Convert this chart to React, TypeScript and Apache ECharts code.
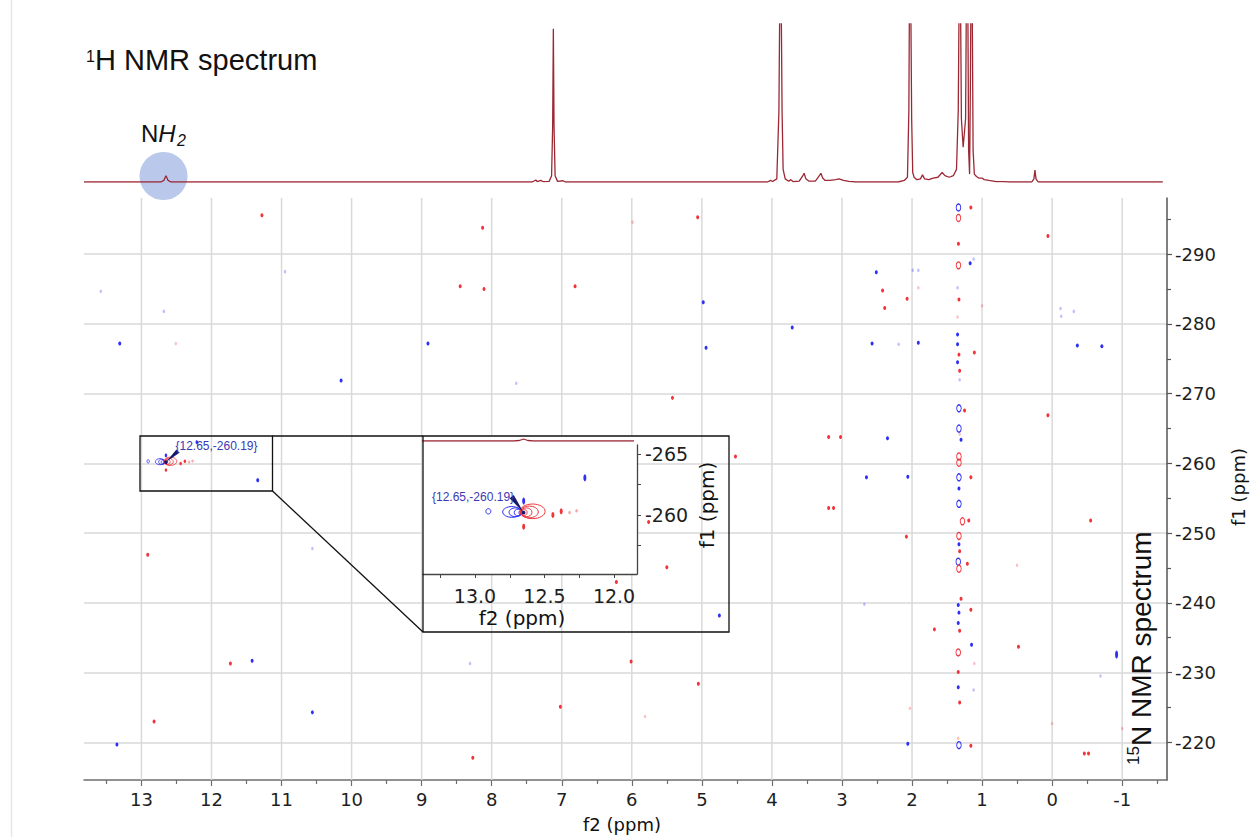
import React, { useEffect, useRef } from 'react';
import * as echarts from 'echarts';

// ---- axis ticks -----------------------------------------------------------
const f2Major = [13, 12, 11, 10, 9, 8, 7, 6, 5, 4, 3, 2, 1, 0, -1];
const f2Minor = [13.5, 12.5, 11.5, 10.5, 9.5, 8.5, 7.5, 6.5, 5.5, 4.5, 3.5, 2.5, 1.5, 0.5, -0.5, -1.5];
const f1Major = [-290, -280, -270, -260, -250, -240, -230, -220];
const f1Minor = [-295, -285, -275, -265, -255, -245, -235, -225];
const zoomF2Major = [13.0, 12.5, 12.0];
const zoomF2Minor = [13.25, 12.75, 12.25];
const zoomF1Major = [-265, -260];
const zoomF1Minor = [-262.5, -257.5];

// ---- 1H spectrum trace: [ppm, intensity] ----------------------------------
const protonSpectrum: number[][] = [
  [13.82, 0], [12.72, 0], [12.68, 1], [12.66, 3], [12.65, 4], [12.64, 3], [12.62, 1], [12.58, 0],
  [7.42, 0], [7.37, 1.3], [7.35, 0.3], [7.3, 1], [7.27, 0.3], [7.18, 0.4], [7.145, 4], [7.13, 35],
  [7.12, 97], [7.11, 35], [7.095, 4], [7.06, 0.4], [6.98, 0.8], [6.95, 0],
  [4.06, 0], [4.02, 1], [3.99, 0.3], [3.93, 2], [3.9, 45], [3.885, 130], [3.87, 130], [3.855, 45],
  [3.84, 8], [3.81, 2], [3.76, 0.5], [3.73, 1.5], [3.7, 0.3], [3.61, 0.5], [3.565, 3.5], [3.54, 5.5],
  [3.515, 2], [3.47, 0.5], [3.38, 0.5], [3.33, 3.5], [3.3, 5.5], [3.275, 2.5], [3.24, 1], [3.17, 1],
  [3.09, 1.5], [3.04, 2], [2.98, 1], [2.9, 0.4], [2.8, 0],
  [2.2, 0], [2.11, 1], [2.065, 3], [2.045, 45], [2.035, 130], [2.02, 130], [2.005, 40], [1.99, 6],
  [1.97, 3], [1.93, 1.5], [1.88, 2], [1.85, 4.5], [1.82, 2], [1.76, 1.5], [1.7, 2.5], [1.63, 3],
  [1.57, 6], [1.53, 4], [1.47, 3], [1.41, 4], [1.365, 8],
  [1.34, 45], [1.325, 130], [1.31, 130], [1.295, 40], [1.27, 22], [1.235, 40], [1.222, 130],
  [1.205, 130], [1.192, 20], [1.178, 5], [1.167, 60], [1.157, 130], [1.143, 130], [1.128, 20],
  [1.11, 5], [1.08, 3.5], [1.05, 2.5], [1.0, 2.5], [0.97, 1.5], [0.9, 1], [0.8, 0.3], [0.7, 0.3],
  [0.6, 0], [0.29, 0], [0.26, 2], [0.245, 7.5], [0.23, 2], [0.2, 0], [-1.58, 0],
];

// ---- 1H-15N cross peaks: [f2 ppm, f1 ppm] --------------------------------
const blueDots: number[][] = [
  [13.31, -277.2], [13.35, -219.7], [11.34, -257.6], [10.15, -271.9], [8.91, -277.2],
  [4.98, -283.1], [4.94, -276.6], [3.71, -279.5], [2.51, -287.4], [2.57, -277.2],
  [-0.36, -276.9], [-0.71, -276.8], [2.65, -258.0], [11.42, -231.7], [10.56, -224.3],
  [4.75, -238.2], [2.35, -263.6], [2.06, -258.1], [2.06, -219.8], [1.91, -277.3],
  [1.17, -288.7], [1.15, -234.0], [1.35, -278.5], [1.35, -277.1], [1.35, -274.5],
  [1.3, -263.4], [1.33, -256.4], [1.33, -248.4], [1.34, -239.7], [1.33, -238.6],
  [1.34, -237.1], [1.34, -227.9],
];
const blueRings: number[][] = [
  [1.337, -296.7], [1.33, -267.9], [1.33, -265.0], [1.33, -258.0], [1.33, -254.2],
  [1.34, -245.9], [1.33, -219.6],
];
const blueFaint: number[][] = [
  [13.58, -284.7], [10.95, -287.5], [12.68, -281.8], [1.99, -287.7], [1.91, -287.7],
  [1.35, -285.2], [2.19, -277.1], [1.32, -272.0], [-0.12, -282.2], [-0.13, -281.1],
  [-0.31, -281.8], [10.56, -247.8], [8.31, -231.3], [2.68, -239.8], [1.12, -227.5],
  [-0.69, -229.5], [1.12, -289.3], [7.65, -271.5],
];
const blueBlobs: number[][] = [[-0.92, -232.6]];
const redDots: number[][] = [
  [11.28, -295.6], [5.06, -295.3], [8.13, -293.8], [0.06, -292.6], [1.16, -296.7],
  [1.337, -291.5], [2.42, -284.8], [8.45, -285.4], [8.11, -285.0], [6.81, -285.4],
  [2.07, -283.6], [1.33, -283.5], [2.39, -282.3], [1.33, -275.6], [1.11, -275.9],
  [1.32, -273.3], [1.25, -267.6], [1.16, -258.0], [0.06, -266.9], [5.42, -269.4],
  [3.19, -263.8], [3.02, -263.8], [4.52, -261.0], [3.12, -253.6], [3.19, -253.6],
  [-0.55, -251.8], [1.19, -251.8], [2.08, -249.5], [1.32, -247.4], [1.21, -245.6],
  [12.91, -246.9], [5.76, -251.6], [5.5, -245.1], [6.22, -243.0], [1.3, -240.6],
  [1.16, -239.0], [1.68, -236.2], [1.32, -236.0], [1.34, -230.1], [1.32, -225.7],
  [11.73, -231.3], [6.01, -231.6], [5.05, -228.4], [7.02, -225.1], [12.82, -223.0],
  [8.27, -217.8], [-0.46, -218.4], [-0.52, -218.4], [1.16, -219.5], [0.48, -233.7],
];
const redRings: number[][] = [
  [1.337, -295.2], [1.337, -288.4], [1.33, -261.0], [1.33, -260.1], [1.28, -251.7],
  [1.33, -249.6], [1.33, -244.9], [1.34, -232.9],
];
const redFaint: number[][] = [
  [1.91, -285.2], [1.35, -281.0], [1.0, -282.6], [1.32, -264.2], [0.5, -245.4],
  [1.11, -231.3], [2.03, -224.9], [1.34, -220.6], [0.0, -222.7], [5.81, -223.7],
  [5.99, -294.6], [-1.0, -222.0], [12.51, -277.2],
];

// NH2 cross peak and its neighbours
const peakRed: number[][] = [[12.44, -260.0], [12.38, -260.3], [12.65, -259.04]];
const peakRedFaint: number[][] = [[12.32, -260.2], [12.27, -260.35]];
const peakBlue: number[][] = [[12.65, -261.15], [12.21, -263.05]];
// contour rings: [f2 centre, f1 centre, f2 half-width, f1 half-height]
const peakContoursBlue: number[][] = [
  [12.735, -260.25, 0.066, 0.44], [12.71, -260.22, 0.045, 0.36], [12.69, -260.2, 0.028, 0.28],
  [12.67, -260.2, 0.014, 0.18], [12.904, -260.3, 0.018, 0.22],
];
const peakContoursRed: number[][] = [
  [12.586, -260.3, 0.09, 0.6], [12.61, -260.25, 0.065, 0.48], [12.63, -260.22, 0.04, 0.36],
  [12.645, -260.2, 0.02, 0.24],
];
const peakLabel: number[][] = [[12.65, -260.19]];

// ---- styling ----------------------------------------------------------------
const BLUE = '#2f2ff5';
const RED = '#f2333a';
const NAVY = '#17176e';
const TRACE = '#9c2834';
const GRID = '#d9d9d9';
const TICK_FONT = '"DejaVu Sans", sans-serif';
const TITLE_FONT = '"Liberation Sans", Arial, sans-serif';

const mkScatter = (data: number[][], color: string, size: number[], xi: number, yi: number, z: number,
  opacity = 1, ring = false, rotate = 0) => ({
  type: 'scatter', data, xAxisIndex: xi, yAxisIndex: yi, z, silent: true,
  symbol: 'circle', symbolSize: size, symbolRotate: rotate,
  itemStyle: ring
    ? { color: 'rgba(255,255,255,0)', borderColor: color, borderWidth: 1.1, opacity }
    : { color, opacity },
  emphasis: { disabled: true },
});

const mkContours = (data: number[][], color: string, xi: number, yi: number, z: number, lw: number) => ({
  type: 'custom', data, xAxisIndex: xi, yAxisIndex: yi, z, silent: true, clip: true,
  encode: { x: 0, y: 1 },
  renderItem: (_p: any, api: any) => {
    const c = api.coord([api.value(0), api.value(1)]);
    const s = api.size([api.value(2), api.value(3)]);
    return {
      type: 'ellipse',
      shape: { cx: c[0], cy: c[1], rx: Math.max(Math.abs(s[0]), 1.2), ry: Math.max(Math.abs(s[1]), 1.6) },
      style: { fill: 'none', stroke: color, lineWidth: lw },
    };
  },
});

// vertical f2 grid lines at the labelled ppm values
const mkF2Grid = () => ({
  type: 'custom', data: f2Major.map((v) => [v, f1Major[0]]), xAxisIndex: 0, yAxisIndex: 0, z: 1,
  silent: true, clip: false, encode: { x: 0, y: 1 },
  renderItem: (params: any, api: any) => {
    const cs = params.coordSys;
    const px = api.coord([api.value(0), api.value(1)])[0];
    return {
      type: 'line',
      shape: { x1: px, y1: cs.y, x2: px, y2: cs.y + cs.height },
      style: { stroke: GRID, lineWidth: 1.5 },
    };
  },
});

const mkAnnotation = (xi: number, yi: number, z: number, tail: number[], label: number[], align: string, hw: number) => ({
  type: 'custom', data: peakLabel, xAxisIndex: xi, yAxisIndex: yi, z, silent: true, clip: false,
  encode: { x: 0, y: 1 },
  renderItem: (_p: any, api: any) => {
    const v0 = api.value(0);
    const v1 = api.value(1);
    const p = api.coord([v0, v1]);
    const tx = p[0] + tail[0];
    const ty = p[1] + tail[1];
    const len = Math.hypot(tail[0], tail[1]);
    const nx = (-tail[1] / len) * hw;
    const ny = (tail[0] / len) * hw;
    return {
      type: 'group',
      children: [
        { type: 'polygon', shape: { points: [[p[0], p[1]], [tx + nx, ty + ny], [tx - nx, ty - ny]] }, style: { fill: NAVY } },
        { type: 'circle', shape: { cx: p[0], cy: p[1], r: 1.8 }, style: { fill: NAVY } },
        {
          type: 'text', x: p[0] + label[0], y: p[1] + label[1],
          style: {
            text: `{${v0.toFixed(2)},${v1.toFixed(2)}}`, fill: '#3a3ab2', font: `12px ${TITLE_FONT}`,
            align, textAlign: align, verticalAlign: 'middle', textVerticalAlign: 'middle',
          },
        },
      ],
    };
  },
});

const txt = (x: number, y: number, text: string, font: string, extra: any = {}) => ({
  type: 'text', x, y, z: 15,
  style: {
    text, font, fill: '#111', align: 'left', textAlign: 'left', verticalAlign: 'middle', textVerticalAlign: 'middle',
    ...extra,
  },
});

const hiddenAxis = (gridIndex: number, min: number, max: number, inverse: boolean) => ({
  type: 'value', gridIndex, min, max, inverse, show: false,
});

const option: any = {
  animation: false,
  backgroundColor: '#ffffff',
  grid: [
    { left: 84, top: 198, width: 1083, height: 582 },
    { left: 84, top: 24, width: 1083, height: 158 },
    { left: 423, top: 445, width: 214, height: 129 },
    { left: 423, top: 391, width: 209, height: 50 },
  ],
  xAxis: [
    {
      type: 'value', gridIndex: 0, min: -1.64, max: 13.82, inverse: true, position: 'bottom',
      axisLine: { onZero: false, lineStyle: { color: '#6e6e6e', width: 1.5 } },
      axisTick: { customValues: f2Major, length: 6, lineStyle: { color: '#6e6e6e', width: 1.2 } },
      axisLabel: { customValues: f2Major, fontFamily: TICK_FONT, fontSize: 18, color: '#1e1e1e', margin: 10 },
      splitLine: { show: false },
    },
    {
      type: 'value', gridIndex: 0, min: -1.64, max: 13.82, inverse: true, position: 'bottom',
      axisLine: { show: false, onZero: false },
      axisTick: { customValues: f2Minor, length: 4, lineStyle: { color: '#6e6e6e', width: 1.2 } },
      axisLabel: { show: false }, splitLine: { show: false },
    },
    hiddenAxis(1, -1.64, 13.82, true),
    {
      type: 'value', gridIndex: 2, min: 11.835, max: 13.374, inverse: true, position: 'bottom', z: 6,
      axisLine: { onZero: false, lineStyle: { color: '#444', width: 1.3 } },
      axisTick: { customValues: zoomF2Major, length: 4, lineStyle: { color: '#444' } },
      axisLabel: {
        customValues: zoomF2Major, fontFamily: TICK_FONT, fontSize: 19, color: '#1e1e1e', margin: 12,
        formatter: (v: number) => v.toFixed(1),
      },
      splitLine: { show: false },
    },
    {
      type: 'value', gridIndex: 2, min: 11.835, max: 13.374, inverse: true, position: 'bottom', z: 6,
      axisLine: { show: false, onZero: false },
      axisTick: { customValues: zoomF2Minor, length: 4, lineStyle: { color: '#444' } },
      axisLabel: { show: false }, splitLine: { show: false },
    },
    hiddenAxis(3, 11.87, 13.374, true),
  ],
  yAxis: [
    {
      type: 'value', gridIndex: 0, min: -298.06, max: -214.6, inverse: true, position: 'right',
      axisLine: { onZero: false, lineStyle: { color: '#555', width: 1.5 } },
      axisTick: { customValues: f1Major, length: 5, lineStyle: { color: '#555', width: 1.2 } },
      axisLabel: { customValues: f1Major, fontFamily: TICK_FONT, fontSize: 18, color: '#1e1e1e', margin: 8 },
      splitLine: { show: true, lineStyle: { color: GRID, width: 1.5 } },
    },
    {
      type: 'value', gridIndex: 0, min: -298.06, max: -214.6, inverse: true, position: 'right',
      axisLine: { show: false, onZero: false },
      axisTick: { customValues: f1Minor, length: 4, lineStyle: { color: '#555', width: 1.2 } },
      axisLabel: { show: false }, splitLine: { show: false },
    },
    hiddenAxis(1, 0, 100, false),
    {
      type: 'value', gridIndex: 2, min: -265.74, max: -255.16, inverse: true, position: 'right', z: 6,
      axisLine: { onZero: false, lineStyle: { color: '#444', width: 1.3 } },
      axisTick: { customValues: zoomF1Major, length: 4, lineStyle: { color: '#444' } },
      axisLabel: { customValues: zoomF1Major, fontFamily: TICK_FONT, fontSize: 19, color: '#1e1e1e', margin: 8 },
      splitLine: { show: false },
    },
    {
      type: 'value', gridIndex: 2, min: -265.74, max: -255.16, inverse: true, position: 'right', z: 6,
      axisLine: { show: false, onZero: false },
      axisTick: { customValues: zoomF1Minor, length: 4, lineStyle: { color: '#444' } },
      axisLabel: { show: false }, splitLine: { show: false },
    },
    hiddenAxis(3, 0, 100, false),
  ],
  series: [
    mkF2Grid(),
    // 1H projection
    {
      type: 'line', data: protonSpectrum, xAxisIndex: 2, yAxisIndex: 2, z: 3, silent: true,
      showSymbol: false, clip: true, lineStyle: { color: TRACE, width: 1.3 },
    },
    // main 2D map
    mkScatter(blueFaint, BLUE, [2.5, 3.5], 0, 0, 2, 0.3),
    mkScatter(redFaint, RED, [2.5, 3.5], 0, 0, 2, 0.3),
    mkScatter(blueDots, BLUE, [3, 4], 0, 0, 2),
    mkScatter(redDots, RED, [3, 4], 0, 0, 2),
    mkScatter(blueRings, BLUE, [4.5, 7], 0, 0, 2, 1, true),
    mkScatter(redRings, RED, [4.5, 7], 0, 0, 2, 1, true),
    mkScatter(blueBlobs, BLUE, [3, 8], 0, 0, 2, 1, false, -0.25),
    mkScatter(peakRed, RED, [2.5, 3.5], 0, 0, 2),
    mkScatter(peakRedFaint, RED, [2.5, 3], 0, 0, 2, 0.4),
    mkScatter(peakBlue, BLUE, [2.5, 4], 0, 0, 2),
    mkContours(peakContoursBlue, BLUE, 0, 0, 2, 0.8),
    mkContours(peakContoursRed, RED, 0, 0, 2, 0.8),
    mkAnnotation(0, 0, 4, [12, -11], [9.5, -16], 'left', 2.2),
    // zoomed view
    {
      type: 'line', data: protonSpectrum, xAxisIndex: 5, yAxisIndex: 5, z: 7, silent: true,
      showSymbol: false, clip: true, lineStyle: { color: TRACE, width: 1.3 },
    },
    mkScatter(peakRed, RED, [3, 6], 3, 3, 7),
    mkScatter(peakRedFaint, RED, [2.5, 3.5], 3, 3, 7, 0.45),
    mkScatter(peakBlue, BLUE, [3, 7], 3, 3, 7),
    mkContours(peakContoursBlue, BLUE, 3, 3, 7, 1),
    mkContours(peakContoursRed, RED, 3, 3, 7, 1),
    mkAnnotation(3, 3, 8, [-12, -16], [-9.6, -15.7], 'right', 2.6),
  ],
  graphic: {
    elements: [
      { type: 'line', z: 0, shape: { x1: 11.5, y1: 0, x2: 11.5, y2: 837 }, style: { stroke: '#e6e6e6', lineWidth: 1.5 } },
      // highlight of the NH2 signal in the projection
      { type: 'circle', z: 1, shape: { cx: 163.5, cy: 176, r: 24 }, style: { fill: 'rgba(140,165,222,0.6)' } },
      // white panel under the zoomed view
      { type: 'rect', z: 5, shape: { x: 423, y: 436, width: 214, height: 138 }, style: { fill: '#ffffff' } },
      // zoom frames and connectors
      { type: 'rect', z: 12, shape: { x: 140, y: 436, width: 132.5, height: 55 }, style: { fill: 'none', stroke: '#111', lineWidth: 1.3 } },
      { type: 'rect', z: 12, shape: { x: 423, y: 436, width: 306, height: 196 }, style: { fill: 'none', stroke: '#111', lineWidth: 1.3 } },
      { type: 'line', z: 12, shape: { x1: 272.5, y1: 436, x2: 423, y2: 436 }, style: { stroke: '#111', lineWidth: 1.3 } },
      { type: 'line', z: 12, shape: { x1: 272.5, y1: 491, x2: 423, y2: 632 }, style: { stroke: '#111', lineWidth: 1.3 } },
      // titles
      txt(86, 56, '1', `16px ${TITLE_FONT}`),
      txt(95, 60, 'H NMR spectrum', `29px ${TITLE_FONT}`),
      txt(141, 133, 'N', `24px ${TITLE_FONT}`),
      txt(158.3, 133, 'H', `italic 24px ${TITLE_FONT}`),
      txt(177, 140, '2', `italic 16px ${TITLE_FONT}`),
      {
        type: 'group', x: 1141, y: 765, rotation: Math.PI / 2, z: 15,
        children: [
          txt(0, -8, '15', `17px ${TITLE_FONT}`),
          txt(19, 0, 'N NMR spectrum', `28px ${TITLE_FONT}`),
        ],
      },
      // axis titles
      txt(622, 824, 'f2 (ppm)', `18px ${TICK_FONT}`, { align: 'center', textAlign: 'center' }),
      txt(522, 618, 'f2 (ppm)', `20px ${TICK_FONT}`, { align: 'center', textAlign: 'center' }),
      {
        type: 'group', x: 1238, y: 487, rotation: Math.PI / 2, z: 15,
        children: [txt(0, 0, 'f1 (ppm)', `18px ${TICK_FONT}`, { align: 'center', textAlign: 'center' })],
      },
      {
        type: 'group', x: 707, y: 505, rotation: Math.PI / 2, z: 15,
        children: [txt(0, 0, 'f1 (ppm)', `20px ${TICK_FONT}`, { align: 'center', textAlign: 'center' })],
      },
    ],
  },
};

export default function App() {
  const ref = useRef<HTMLDivElement>(null);
  useEffect(() => {
    if (!ref.current) return;
    const chart = echarts.init(ref.current, null, { renderer: 'svg' });
    chart.setOption(option);
    return () => chart.dispose();
  }, []);
  return (
    <div
      ref={ref}
      style={{ position: 'fixed', left: 0, top: 0, width: 1252, height: 837, background: '#ffffff' }}
    />
  );
}
